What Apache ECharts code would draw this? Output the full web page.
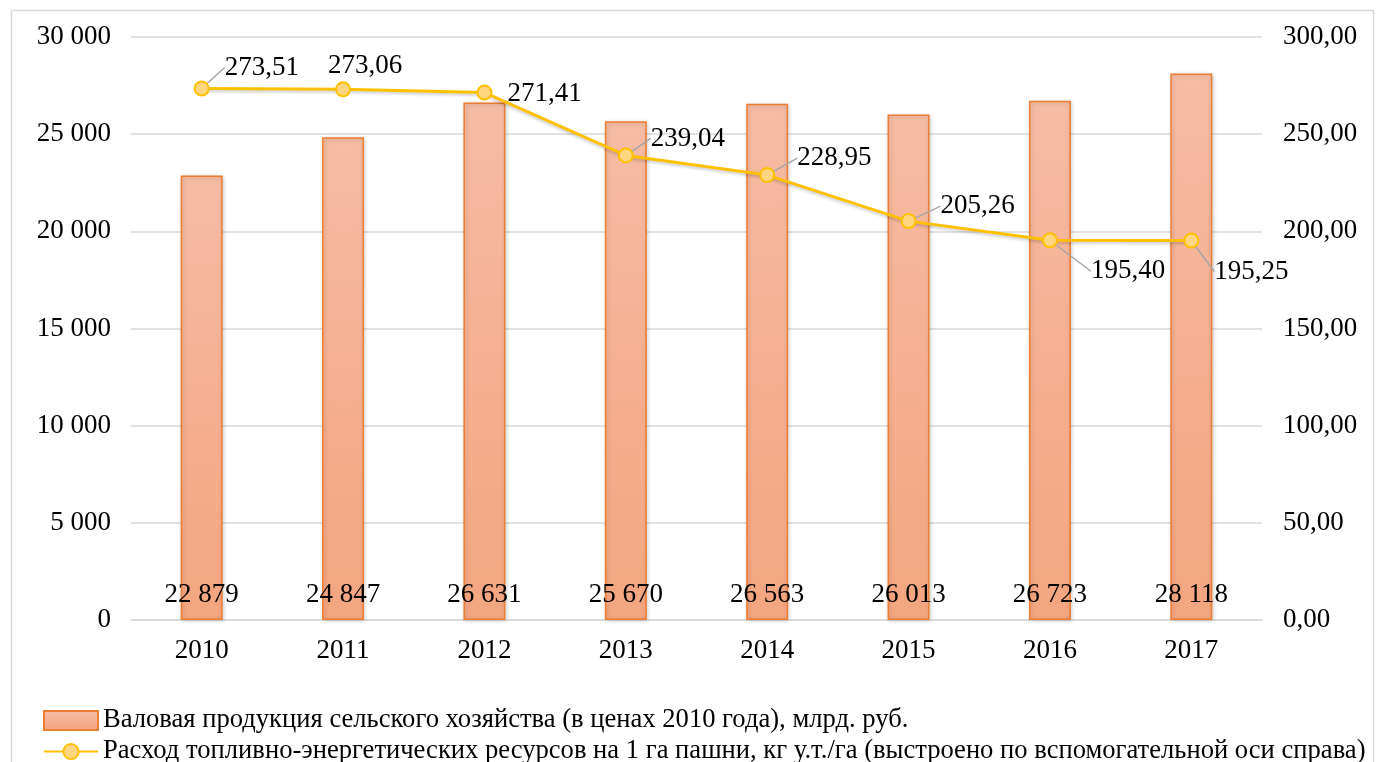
<!DOCTYPE html>
<html>
<head>
<meta charset="utf-8">
<script src="https://cdn.jsdelivr.net/npm/echarts@6/dist/echarts.min.js"></script>
<style>
  html, body { margin: 0; padding: 0; background: #fff; }
  #chart { width: 1380px; height: 762px; }
</style>
</head>
<body>
<div id="chart"></div>
<script>
// годы
var years = ['2010', '2011', '2012', '2013', '2014', '2015', '2016', '2017'];
// валовая продукция, млрд. руб.
var grossOutput = [22879, 24847, 26631, 25670, 26563, 26013, 26723, 28118];
// расход ТЭР, кг у.т./га
var fuelUse = [273.51, 273.06, 271.41, 239.04, 228.95, 205.26, 195.40, 195.25];

var barName = 'Валовая продукция сельского хозяйства (в ценах 2010 года), млрд. руб.';
var lineName = 'Расход топливно-энергетических ресурсов на 1 га пашни, кг у.т./га (выстроено по вспомогательной оси справа)';

// смещения подписей линии (левый край, центр по y)
var labelShift = [
  [23, -21], [-15, -23], [23, 1], [25, -17], [30, -17], [32, -15], [41, 31], [23, 31]
];
var labelLineOn = [true, false, false, true, true, true, true, true];

var serif = '"Liberation Serif", "DejaVu Serif", serif';
var fs = 27;

function spaced(v) {
  return String(v).replace(/\B(?=(\d{3})+(?!\d))/g, ' ');
}
function comma(v) {
  return v.toFixed(2).replace('.', ',');
}

var legendText = { fontFamily: serif, fontSize: 26.6, color: '#000' };

var chart = echarts.init(document.getElementById('chart'));
var option = {
  animation: false,
  textStyle: { fontFamily: serif },
  graphic: [{
    type: 'rect',
    shape: { x: 11.5, y: 10.5, width: 1362, height: 800 },
    style: { fill: 'none', stroke: '#d9d9d9', lineWidth: 1.5 },
    silent: true
  }],
  grid: { left: 131, right: 118, top: 37, bottom: 142, containLabel: false },
  legend: [{
    left: 38,
    top: 702,
    itemWidth: 54,
    itemHeight: 19,
    textStyle: legendText,
    data: [{ name: barName, icon: 'rect' }]
  }, {
    left: 38,
    top: 733,
    itemWidth: 54,
    itemHeight: 19,
    textStyle: legendText,
    data: [{ name: lineName }]
  }],
  xAxis: {
    type: 'category',
    data: years,
    axisLine: { lineStyle: { color: '#d9d9d9', width: 1.5 } },
    axisTick: { show: false },
    axisLabel: { fontFamily: serif, fontSize: fs, color: '#000', margin: 17 }
  },
  yAxis: [{
    type: 'value',
    min: 0, max: 30000, interval: 5000,
    axisLine: { show: false },
    axisTick: { show: false },
    splitLine: { lineStyle: { color: '#d9d9d9', width: 1.5 } },
    axisLabel: { fontFamily: serif, fontSize: fs, color: '#000', margin: 20, formatter: spaced }
  }, {
    type: 'value',
    min: 0, max: 300, interval: 50,
    axisLine: { show: false },
    axisTick: { show: false },
    splitLine: { show: false },
    axisLabel: { fontFamily: serif, fontSize: fs, color: '#000', margin: 21, formatter: comma }
  }],
  series: [{
    name: barName,
    type: 'bar',
    yAxisIndex: 0,
    barWidth: 42,
    data: grossOutput,
    itemStyle: {
      color: new echarts.graphic.LinearGradient(0, 0, 0, 1, [
        { offset: 0, color: '#f5bca4' },
        { offset: 1, color: '#f4a580' }
      ]),
      borderColor: '#ed7d31',
      borderWidth: 1.5,
      shadowColor: 'rgba(0,0,0,0.18)',
      shadowBlur: 4,
      shadowOffsetX: 1,
      shadowOffsetY: 1
    },
    label: {
      show: true,
      position: 'insideBottom',
      distance: 12,
      fontFamily: serif,
      fontSize: fs,
      color: '#000',
      formatter: function (p) { return spaced(p.value); }
    }
  }, {
    name: lineName,
    type: 'line',
    yAxisIndex: 1,
    data: fuelUse.map(function (v, i) {
      return { value: v, labelLine: { show: labelLineOn[i] } };
    }),
    symbol: 'circle',
    symbolSize: 14,
    lineStyle: { color: '#ffc000', width: 3, shadowColor: 'rgba(0,0,0,0.2)', shadowBlur: 3, shadowOffsetY: 2 },
    itemStyle: { color: '#ffd580', borderColor: '#ffc000', borderWidth: 2 },
    label: {
      show: true,
      position: 'inside',
      fontFamily: serif,
      fontSize: fs,
      color: '#000',
      formatter: function (p) { return comma(p.value); }
    },
    labelLine: {
      show: true,
      lineStyle: { color: '#a6a6a6', width: 1.5 }
    },
    labelLayout: function (p) {
      var s = labelShift[p.dataIndex];
      var w = p.labelRect.width;
      return {
        dx: s[0] + w / 2,
        dy: s[1],
        hideOverlap: false
      };
    },
    z: 5
  }]
};
chart.setOption(option);
</script>
</body>
</html>
